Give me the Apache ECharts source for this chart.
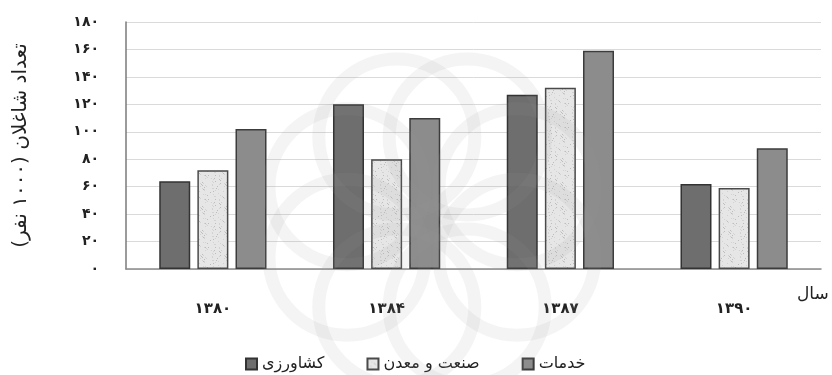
<!DOCTYPE html>
<html>
<head>
<meta charset="utf-8">
<script src="https://cdn.jsdelivr.net/npm/echarts@6/dist/echarts.min.js"></script>
<style>
  html, body { margin: 0; padding: 0; background: #fff; }
  #chart { width: 832px; height: 375px; }
</style>
</head>
<body>
<div id="chart"></div>
<script>
// Employment by sector (thousand people), selected years
const years = ['۱۳۸۰', '۱۳۸۴', '۱۳۸۷', '۱۳۹۰'];
const agriculture = [64, 120, 127, 62];
const industryMining = [72, 80, 132, 59];
const services = [102, 110, 159, 88];
const seriesNames = ['کشاورزی', 'صنعت و معدن', 'خدمات'];
const yTicks = [0, 20, 40, 60, 80, 100, 120, 140, 160, 180];

const FONT = 'DejaVu Sans';
const persianDigits = '۰۱۲۳۴۵۶۷۸۹';
function toPersian(n) {
  return String(n).replace(/[0-9]/g, d => persianDigits[+d]);
}

// Light speckled fill used for the industry & mining bars
function speckle() {
  const c = document.createElement('canvas');
  c.width = 24; c.height = 24;
  const g = c.getContext('2d');
  g.fillStyle = '#e6e6e6';
  g.fillRect(0, 0, 24, 24);
  let s = 7;
  for (let i = 0; i < 60; i++) {
    s = (s * 73 + 41) % 577;
    const x = s % 24;
    s = (s * 73 + 41) % 577;
    const y = s % 24;
    g.fillStyle = (i % 3 === 0) ? '#bdbdbd' : '#d2d2d2';
    g.fillRect(x, y, 1, 1);
  }
  return c;
}

// Faint rosette emblem in the background: a ring of interlocking circles
function rosette(cx, cy) {
  const parts = [];
  const n = 8, dist = 92, r = 78;
  for (let i = 0; i < n; i++) {
    const a = (i / n) * Math.PI * 2 + Math.PI / 8;
    parts.push({
      type: 'circle',
      silent: true,
      shape: { cx: cx + dist * Math.cos(a), cy: cy + dist * Math.sin(a), r: r },
      style: { fill: 'none', stroke: '#9a9a9a', lineWidth: 13, opacity: 0.11 },
      z: 10
    });
  }
  return parts;
}

const chart = echarts.init(document.getElementById('chart'), null, { renderer: 'canvas' });

const barCommon = {
  type: 'bar',
  barWidth: 31,
  barGap: '23%',
  z: 3
};

chart.setOption({
  animation: false,
  backgroundColor: '#ffffff',
  textStyle: { fontFamily: FONT },
  grid: { left: 126, right: 11, top: 22, bottom: 106 },
  legend: {
    top: 351,
    left: 240,
    itemWidth: 11,
    itemHeight: 11,
    itemGap: 42,
    icon: 'rect',
    data: seriesNames,
    textStyle: { fontFamily: FONT, fontSize: 16, color: '#222' }
  },
  xAxis: {
    type: 'category',
    data: years,
    axisLine: { lineStyle: { color: '#8a8a8a', width: 1.5 } },
    axisTick: { show: false },
    axisLabel: {
      margin: 33,
      fontFamily: FONT,
      fontWeight: 'bold',
      fontSize: 15,
      color: '#222'
    }
  },
  yAxis: {
    type: 'value',
    min: 0,
    max: 180,
    interval: 20,
    name: 'تعداد شاغلان (۱۰۰۰ نفر)',
    nameLocation: 'middle',
    nameRotate: 90,
    nameGap: 95,
    nameTextStyle: { fontFamily: FONT, fontSize: 20, color: '#222' },
    axisLine: { show: true, lineStyle: { color: '#7a7a7a', width: 1.5 } },
    axisTick: { show: false },
    splitLine: { lineStyle: { color: '#dadada', width: 1 } },
    axisLabel: {
      margin: 27,
      fontFamily: FONT,
      fontWeight: 'bold',
      fontSize: 14,
      color: '#222',
      formatter: v => yTicks.includes(v) ? toPersian(v) : ''
    }
  },
  graphic: rosette(432, 222).concat([
    {
      type: 'text',
      left: 797,
      top: 286,
      style: { text: 'سال', fontFamily: FONT, fontSize: 17, fill: '#222' }
    }
  ]),
  series: [
    Object.assign({}, barCommon, {
      name: seriesNames[0],
      data: agriculture,
      itemStyle: { color: '#6e6e6e', borderColor: '#333333', borderWidth: 1.5 }
    }),
    Object.assign({}, barCommon, {
      name: seriesNames[1],
      data: industryMining,
      itemStyle: {
        color: { image: speckle(), repeat: 'repeat' },
        borderColor: '#4a4a4a',
        borderWidth: 1.5
      }
    }),
    Object.assign({}, barCommon, {
      name: seriesNames[2],
      data: services,
      itemStyle: { color: '#8c8c8c', borderColor: '#3c3c3c', borderWidth: 1.5 }
    })
  ]
});
</script>
</body>
</html>
